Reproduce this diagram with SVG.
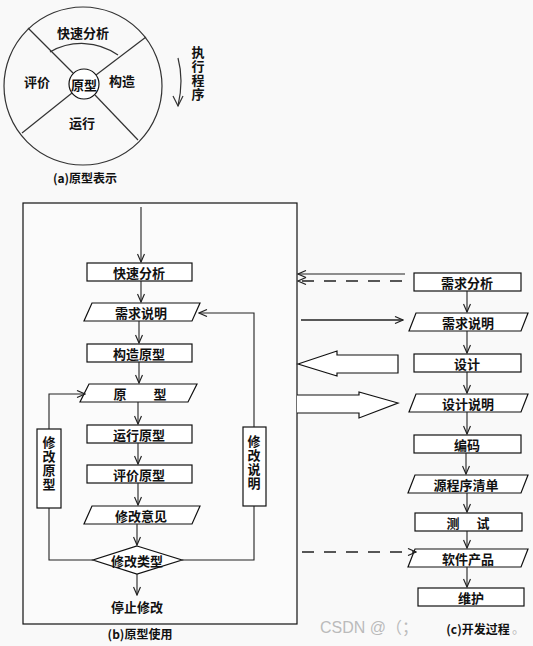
<svg xmlns="http://www.w3.org/2000/svg" width="533" height="646" viewBox="0 0 533 646">
<style>
.t{font-family:"Noto Sans CJK SC","Liberation Sans",sans-serif;font-size:13px;font-weight:bold;fill:#111;text-anchor:middle;dominant-baseline:central}
.v{font-family:"Noto Sans CJK SC",sans-serif;font-size:13px;font-weight:bold;fill:#111;text-anchor:middle;writing-mode:vertical-rl;letter-spacing:1px}
.s{fill:#fff;stroke:#111;stroke-width:1.2}
.l{fill:none;stroke:#222;stroke-width:1.1}
.g{fill:none;stroke:#333;stroke-width:1.2}
.d{fill:none;stroke:#222;stroke-width:1.3;stroke-dasharray:12 10}
.h{fill:#fff;stroke:#111;stroke-width:1.2}
</style>
<defs>
<marker id="a" markerUnits="userSpaceOnUse" markerWidth="10" markerHeight="8" refX="9" refY="4" orient="auto">
<path d="M1,0.5 L9,4 L1,7.5" fill="none" stroke="#222" stroke-width="1.2"/>
</marker>
</defs>
<rect width="533" height="646" fill="#f9f9f9"/>

<g id="circle-a">
<circle cx="83" cy="86" r="79" class="g"/>
<circle cx="84" cy="84" r="15" class="s"/>
<line x1="28" y1="28" x2="73" y2="73" class="g"/>
<line x1="146" y1="37" x2="96" y2="75" class="g"/>
<line x1="22" y1="133" x2="72" y2="93" class="g"/>
<line x1="138" y1="140" x2="95" y2="95" class="g"/>
<path d="M50,52 A63,63 0 0 1 118,55" class="g"/>
<text x="83" y="32" class="t">快速分析</text>
<text x="37" y="81" class="t">评价</text>
<text x="84" y="84" class="t">原型</text>
<text x="122" y="80" class="t">构造</text>
<text x="82" y="122" class="t">运行</text>
<path d="M178,58 Q184,80 178,106" class="g"/>
<path d="M173,96 L178,106 L183,96" class="g"/>
<text x="198" y="74" class="v">执行程序</text>
<text x="85" y="177" class="t" style="font-size:12px">(a)原型表示</text>
</g>

<g id="box-b">
<rect x="23" y="203" width="274" height="421" fill="#fbfbfb" stroke="#111" stroke-width="1.2"/>
<text x="140" y="633" class="t" style="font-size:12px">(b)原型使用</text>
</g>

<g id="b1"><rect x="87" y="263" width="105" height="18" class="s"/><text x="139" y="272" class="t">快速分析</text></g>
<g id="b2"><path d="M92,303 L200,303 L192,321 L84,321 Z" class="s"/><text x="141" y="312" class="t">需求说明</text></g>
<g id="b3"><rect x="87" y="344" width="105" height="18" class="s"/><text x="139" y="353" class="t">构造原型</text></g>
<g id="b4"><path d="M89,384 L197,384 L188,402 L80,402 Z" class="s"/><text x="120" y="393" class="t">原</text><text x="160" y="393" class="t">型</text></g>
<g id="b5"><rect x="87" y="425" width="105" height="18" class="s"/><text x="139" y="434" class="t">运行原型</text></g>
<g id="b6"><rect x="87" y="465" width="105" height="18" class="s"/><text x="139" y="474" class="t">评价原型</text></g>
<g id="b7"><path d="M92,506 L200,506 L192,524 L84,524 Z" class="s"/><text x="141" y="515" class="t">修改意见</text></g>
<g id="b8"><path d="M137,546 L182,560 L137,574 L93,560 Z" class="s"/><text x="137" y="560" class="t">修改类型</text></g>
<g id="b9"><text x="137" y="606" class="t">停止修改</text></g>
<g id="b10"><rect x="37" y="429" width="24" height="79" class="s"/>
<text x="49" y="464" class="v">修改原型</text></g>
<g id="b11"><rect x="243" y="427" width="23" height="79" class="s"/>
<text x="254" y="463" class="v">修改说明</text></g>

<g id="c1"><rect x="414" y="273" width="107" height="18" class="s"/><text x="467" y="282" class="t">需求分析</text></g>
<g id="c2"><path d="M416,313 L528,313 L521,331 L409,331 Z" class="s"/><text x="468" y="322" class="t">需求说明</text></g>
<g id="c3"><rect x="414" y="354" width="107" height="18" class="s"/><text x="467" y="363" class="t">设计</text></g>
<g id="c4"><path d="M416,394 L528,394 L521,412 L409,412 Z" class="s"/><text x="468" y="403" class="t">设计说明</text></g>
<g id="c5"><rect x="414" y="435" width="107" height="18" class="s"/><text x="467" y="444" class="t">编码</text></g>
<g id="c6"><path d="M415,475 L528,475 L521,493 L408,493 Z" class="s"/><text x="466" y="484" class="t">源程序清单</text></g>
<g id="c7"><rect x="415" y="513" width="107" height="18" class="s"/><text x="453" y="522" class="t">测</text><text x="483" y="522" class="t">试</text></g>
<g id="c8"><path d="M415,549 L528,549 L521,567 L408,567 Z" class="s"/><text x="468" y="558" class="t">软件产品</text></g>
<g id="c9"><rect x="418" y="588" width="106" height="18" class="s"/><text x="471" y="597" class="t">维护</text></g>
<g id="c-label">
<text x="320" y="633" style="font-family:'Liberation Sans','Noto Sans CJK SC',sans-serif;font-size:16px;fill:#bbb">CSDN @（；</text>
<text x="478" y="628" class="t" style="font-size:12px">(c)开发过程</text>
<text x="512" y="633" style="font-family:'Noto Sans CJK SC',sans-serif;font-size:13px;fill:#bbb">。</text>
</g>

<g id="connectors">
<line x1="141" y1="207" x2="141" y2="262" class="l" marker-end="url(#a)"/>
<line x1="141" y1="281" x2="141" y2="302" class="l" marker-end="url(#a)"/>
<line x1="139" y1="321" x2="139" y2="343" class="l" marker-end="url(#a)"/>
<line x1="139" y1="362" x2="139" y2="383" class="l" marker-end="url(#a)"/>
<line x1="138" y1="402" x2="138" y2="424" class="l" marker-end="url(#a)"/>
<line x1="138" y1="443" x2="138" y2="464" class="l" marker-end="url(#a)"/>
<line x1="138" y1="483" x2="138" y2="505" class="l" marker-end="url(#a)"/>
<line x1="137" y1="524" x2="137" y2="545" class="l" marker-end="url(#a)"/>
<line x1="137" y1="574" x2="137" y2="595" class="l" marker-end="url(#a)"/>
<polyline points="93,560 49,560 49,508" class="l"/>
<polyline points="49,429 49,394 85,394" class="l" marker-end="url(#a)"/>
<polyline points="182,560 254,560 254,506" class="l"/>
<polyline points="254,427 254,313 199,313" class="l" marker-end="url(#a)"/>

<line x1="467" y1="291" x2="467" y2="312" class="l" marker-end="url(#a)"/>
<line x1="467" y1="331" x2="467" y2="353" class="l" marker-end="url(#a)"/>
<line x1="467" y1="372" x2="467" y2="393" class="l" marker-end="url(#a)"/>
<line x1="467" y1="412" x2="467" y2="434" class="l" marker-end="url(#a)"/>
<line x1="466" y1="453" x2="466" y2="474" class="l" marker-end="url(#a)"/>
<line x1="467" y1="493" x2="467" y2="512" class="l" marker-end="url(#a)"/>
<line x1="467" y1="531" x2="467" y2="548" class="l" marker-end="url(#a)"/>
<line x1="467" y1="567" x2="467" y2="587" class="l" marker-end="url(#a)"/>

<line x1="405" y1="274" x2="298" y2="274" class="l" marker-end="url(#a)"/>
<line x1="402" y1="281" x2="298" y2="281" class="d" marker-end="url(#a)"/>
<line x1="301" y1="320" x2="403" y2="320" class="l" marker-end="url(#a)" style="stroke-width:1.6"/>
<path d="M298,364 L337,351 L337,355 L398,355 L398,373 L337,373 L337,376 Z" class="h"/>
<path d="M297,395 L359,395 L359,392 L398,403 L359,418 L359,413 L297,413" class="h"/>
<line x1="302" y1="552" x2="416" y2="552" class="d" marker-end="url(#a)"/>
</g>
</svg>
